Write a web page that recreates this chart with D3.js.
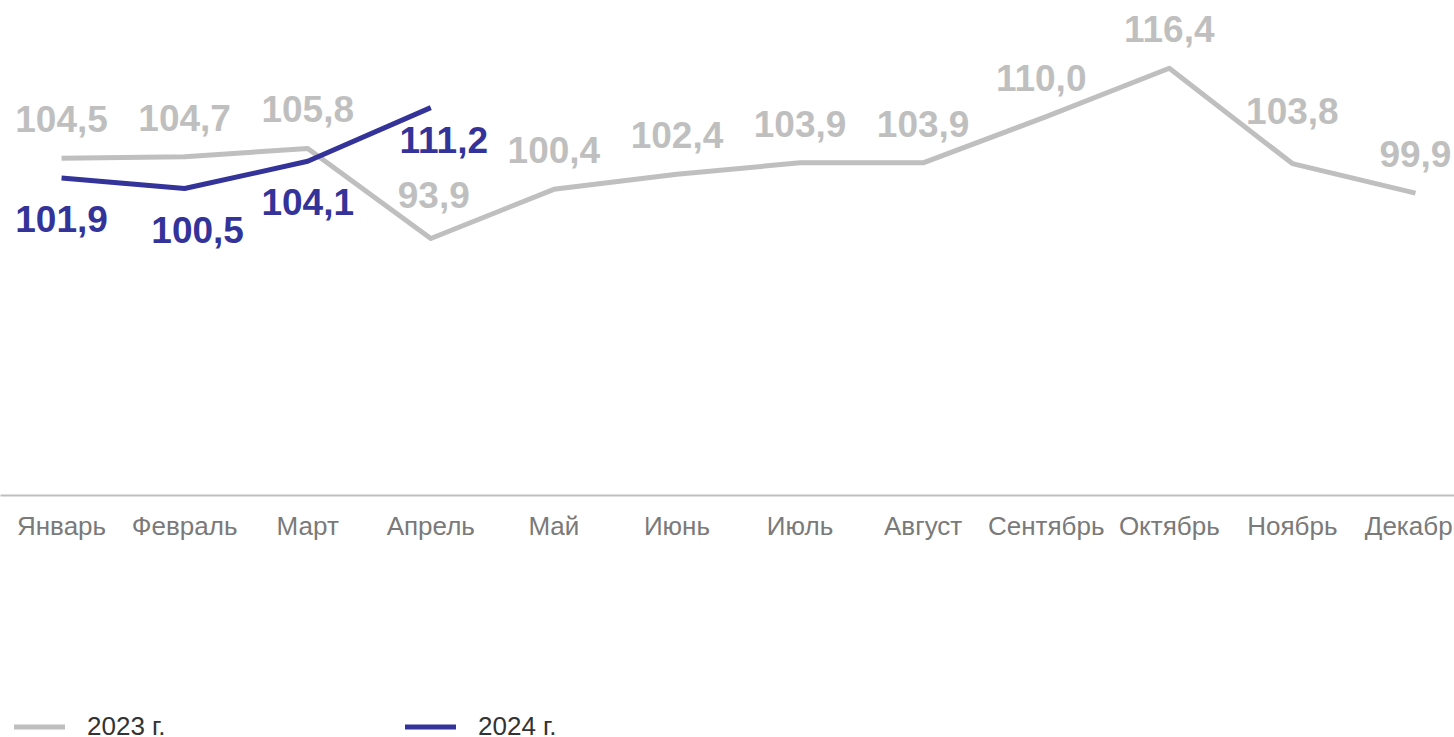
<!DOCTYPE html>
<html lang="ru">
<head>
<meta charset="utf-8">
<script src="https://cdn.jsdelivr.net/npm/d3@7"></script>
<style>
  html, body { margin: 0; padding: 0; background: #fff; overflow: hidden; }
  svg { display: block; font-family: Arial, "Liberation Sans", sans-serif; }
</style>
</head>
<body>
<svg id="chart"></svg>
<script>
// DATA
const months = ["Январь", "Февраль", "Март", "Апрель", "Май", "Июнь", "Июль", "Август", "Сентябрь", "Октябрь", "Ноябрь", "Декабрь"];
const values2023 = [104.5, 104.7, 105.8, 93.9, 100.4, 102.4, 103.9, 103.9, 110.0, 116.4, 103.8, 99.9];
const values2024 = [101.9, 100.5, 104.1, 111.2];
const seriesNames = ["2023 г.", "2024 г."];

const width = 1454;
const height = 737;
const gray = "#bfbfbf";
const navy = "#333399";

const svg = d3.select("#chart").attr("width", width).attr("height", height);

// scales
const x = d3.scaleBand().domain(months).range([0, 1477]);
const cx = (m) => x(m) + x.bandwidth() / 2;
const y = d3.scaleLinear().domain([60, 120]).range([495, 41]);

// axis
const axis = svg.append("g")
  .attr("transform", `translate(0, ${y(60)})`)
  .call(d3.axisBottom(x).tickSize(0).tickSizeOuter(0).tickPadding(22));
axis.select(".domain").attr("stroke", gray).attr("stroke-width", 2);
axis.selectAll("text")
  .attr("fill", "#7a7a7a")
  .style("font-size", "26px")
  .style("font-family", "Arial, 'Liberation Sans', sans-serif");

const series = [
  { name: seriesNames[0], color: gray, values: values2023, dy: -26 },
  { name: seriesNames[1], color: navy, values: values2024, dy: 54 },
];

// few labels were moved by hand in the original
const nudge = {
  "2023 г.|Апрель": [3, -4],
  "2023 г.|Сентябрь": [-5, 0],
  "2023 г.|Ноябрь": [0, -14],
  "2024 г.|Февраль": [13, 0],
  "2024 г.|Апрель": [13, -9],
};

const line = d3.line()
  .x((d, i) => cx(months[i]))
  .y((d) => y(d));

series.forEach((s) => {
  svg.append("path")
    .datum(s.values)
    .attr("fill", "none")
    .attr("stroke", s.color)
    .attr("stroke-width", 5)
    .attr("stroke-linejoin", "round")
    .attr("d", line);
});

series.forEach((s) => {
  svg.append("g")
    .selectAll("text")
    .data(s.values)
    .enter()
    .append("text")
    .attr("x", (d, i) => cx(months[i]) + (nudge[s.name + "|" + months[i]] || [0, 0])[0])
    .attr("y", (d, i) => y(d) + s.dy + (nudge[s.name + "|" + months[i]] || [0, 0])[1])
    .attr("text-anchor", "middle")
    .attr("fill", s.color)
    .style("font-size", "37px")
    .style("font-weight", "bold")
    .text((d) => d.toFixed(1).replace(".", ","));
});

// legend
const legend = svg.append("g").attr("transform", "translate(0, 727)");
const legendItems = legend.selectAll("g")
  .data(series)
  .enter()
  .append("g")
  .attr("transform", (d, i) => `translate(${[14, 405][i]}, 0)`);
legendItems.append("line")
  .attr("x1", 0).attr("x2", 51)
  .attr("y1", 0).attr("y2", 0)
  .attr("stroke", (d) => d.color)
  .attr("stroke-width", 5);
legendItems.append("text")
  .attr("x", 73)
  .attr("y", 8)
  .attr("fill", "#333333")
  .style("font-size", "26px")
  .text((d) => d.name);
</script>
</body>
</html>
